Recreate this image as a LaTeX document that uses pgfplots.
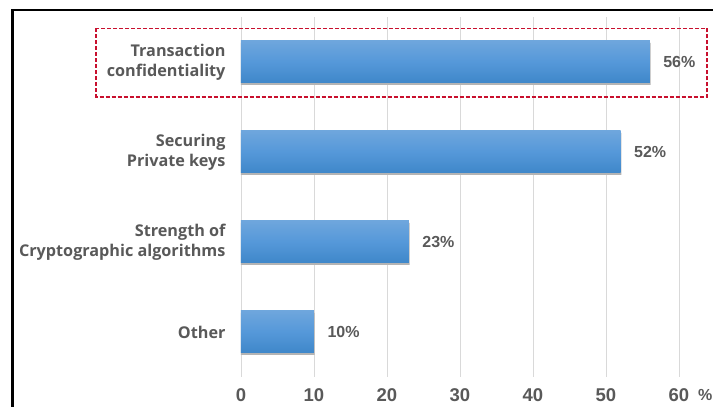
\documentclass[border=0pt]{standalone}
\usepackage{fontspec}
\setmainfont{Liberation Sans}
\newfontfamily\catfont{Open Sans}
\usepackage{pgfplots}
\pgfplotsset{compat=1.18}
\definecolor{txt}{HTML}{595959}
\definecolor{gridc}{HTML}{D9D9D9}
\definecolor{barT}{HTML}{6EA6DD}
\definecolor{barM}{HTML}{5598D9}
\definecolor{barB}{HTML}{3F87C9}
\definecolor{shad}{HTML}{B4B4B4}
\definecolor{boxred}{HTML}{C8102E}
\begin{document}
\begin{tikzpicture}[x=1pt,y=1pt]
\useasboundingbox[fill=white] (0,0) rectangle (713,407);
\begin{pgfinterruptboundingbox}
\begin{scope}
\clip (0,0) rectangle (713,407);
\draw[line width=2.4pt] (12.3,397.2) rectangle (760,-40);
\end{scope}
\end{pgfinterruptboundingbox}
\begin{axis}[
  at={(241pt,30pt)}, anchor=south west,
  scale only axis, width=438pt, height=360pt,
  xmin=0, xmax=60, ymin=-0.5, ymax=3.5,
  xbar, bar width=42pt, bar shift=0pt,
  axis line style={draw=none}, tick style={draw=none},
  major tick length=0pt,
  xtick={0,10,...,60},
  xmajorgrids, grid style={color=gridc, line width=0.9pt},
  /pgf/number format/assume math mode=true,
  xticklabel style={font=\fontsize{18.5}{20}\selectfont\bfseries, text=txt, anchor=center, yshift=-18pt},
  ytick={0,1,2,3},
  yticklabels={Other, {Strength of\\Cryptographic algorithms}, {Securing\\Private keys}, {Transaction\\confidentiality}},
  yticklabel style={font=\catfont\fontsize{16.2}{20}\selectfont\bfseries, text=txt, align=right, anchor=east, xshift=-12pt},
  clip=false,
]
% shadows
\addplot[draw=none, fill=shad, bar shift=-2pt, forget plot] coordinates {(10.1,0) (23.1,1) (52.1,2) (56.1,3)};
% bars (one path each so each gets its own gradient)
\addplot[draw=none, top color=barT, bottom color=barB, middle color=barM,
  point meta=x, nodes near coords={\pgfmathprintnumber{\pgfplotspointmeta}\%},
  nodes near coords style={font=\fontsize{16}{18}\selectfont\bfseries, text=txt, anchor=west, xshift=10pt}] coordinates {(56,3)};
\addplot[draw=none, top color=barT, bottom color=barB, middle color=barM,
  point meta=x, nodes near coords={\pgfmathprintnumber{\pgfplotspointmeta}\%},
  nodes near coords style={font=\fontsize{16}{18}\selectfont\bfseries, text=txt, anchor=west, xshift=10pt}] coordinates {(52,2)};
\addplot[draw=none, top color=barT, bottom color=barB, middle color=barM,
  point meta=x, nodes near coords={\pgfmathprintnumber{\pgfplotspointmeta}\%},
  nodes near coords style={font=\fontsize{16}{18}\selectfont\bfseries, text=txt, anchor=west, xshift=10pt}] coordinates {(23,1)};
\addplot[draw=none, top color=barT, bottom color=barB, middle color=barM,
  point meta=x, nodes near coords={\pgfmathprintnumber{\pgfplotspointmeta}\%},
  nodes near coords style={font=\fontsize{16}{18}\selectfont\bfseries, text=txt, anchor=west, xshift=10pt}] coordinates {(10,0)};
\end{axis}
\draw[boxred, line width=1.4pt, dash pattern=on 4pt off 2pt] (96,378.5) rectangle (707,310);
\node[font=\fontsize{16}{18}\selectfont\bfseries, text=txt, anchor=west, inner sep=0pt] at (698,12) {\%};
\end{tikzpicture}
\end{document}
